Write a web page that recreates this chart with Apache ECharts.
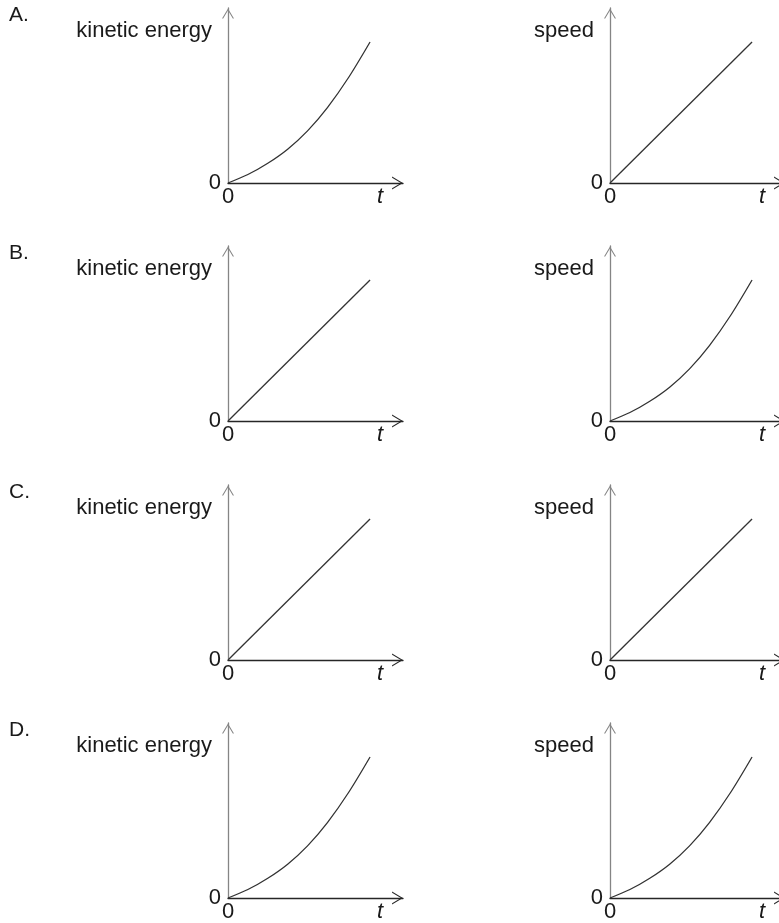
<!DOCTYPE html>
<html>
<head>
<meta charset="utf-8">
<script src="https://cdn.jsdelivr.net/npm/echarts@6/dist/echarts.min.js"></script>
<style>
html, body { margin: 0; padding: 0; background: #fff; }
#main { width: 779px; height: 923px; }
</style>
</head>
<body>
<div id="main"></div>
<script>
// values (t and the plotted quantity, same units in every panel)
var curveT = [0, 1.4, 2.8, 4.2, 5.6, 7.0, 8.5, 10];
var curveValues = [0, 0.6, 1.4, 2.4, 3.7, 5.35, 7.5, 10];
var lineT = [0, 10];
var lineValues = [0, 10];

var rowLabels = ['A.', 'B.', 'C.', 'D.'];
var yNames = ['kinetic energy', 'speed'];
// shape of the graph in each panel: [kinetic energy, speed]
var panelShapes = [
    ['curve', 'line'],
    ['line', 'curve'],
    ['line', 'line'],
    ['curve', 'curve']
];

var originY = [183, 421, 660, 898];
var originX = [228, 610];
var size = 175;
var xMax = 12.32, yMax = 12.41;
var font = 'Liberation Sans, Arial, sans-serif';
var fs = 22;
var arrow = 'path://M0,10 L6,0 L12,10 L10.8,10 L6,1.9 L1.2,10 Z';

function pairs(xs, ys) {
    var out = [];
    for (var i = 0; i < xs.length; i++) out.push([xs[i], ys[i]]);
    return out;
}

var grids = [], xAxes = [], yAxes = [], series = [], titles = [];
for (var r = 0; r < 4; r++) {
    titles.push({
        text: rowLabels[r],
        left: 9,
        top: originY[r] - 178,
        padding: 0,
        textStyle: { fontFamily: font, fontSize: 21, fontWeight: 'normal', color: '#1a1a1a' }
    });
    for (var c = 0; c < 2; c++) {
        var idx = grids.length;
        grids.push({
            left: originX[c],
            top: originY[r] - size,
            width: size,
            height: size,
            outerBoundsMode: 'none'
        });
        xAxes.push({
            gridIndex: idx,
            type: 'value',
            min: 0,
            max: xMax,
            name: 't',
            nameLocation: 'end',
            nameGap: -23,
            nameMoveOverlap: false,
            nameTextStyle: {
                fontFamily: font, fontSize: fs, fontStyle: 'italic', color: '#1a1a1a',
                align: 'center', verticalAlign: 'top', padding: [3, 0, 0, 0]
            },
            axisLine: {
                lineStyle: { color: '#262626', width: 1.3 },
                symbol: ['none', arrow],
                symbolSize: [13, 11],
                symbolOffset: [0, -5.5]
            },
            axisTick: { show: false },
            splitLine: { show: false },
            axisLabel: {
                margin: 3,
                fontFamily: font, fontSize: fs, color: '#1a1a1a',
                formatter: function (v) { return v === 0 ? '0' : ''; }
            }
        });
        yAxes.push({
            gridIndex: idx,
            type: 'value',
            min: 0,
            max: yMax,
            name: yNames[c],
            nameLocation: 'end',
            nameGap: -23,
            nameMoveOverlap: false,
            nameTextStyle: {
                fontFamily: font, fontSize: fs, color: '#1a1a1a',
                align: 'right', verticalAlign: 'middle', padding: [0, 16, 0, 0]
            },
            axisLine: {
                lineStyle: { color: '#858585', width: 1.3 },
                symbol: ['none', arrow],
                symbolSize: [12, 11],
                symbolOffset: [0, -5.5]
            },
            axisTick: { show: false },
            splitLine: { show: false },
            axisLabel: {
                margin: 7,
                fontFamily: font, fontSize: fs, color: '#1a1a1a',
                formatter: function (v) { return v === 0 ? '0' : ''; }
            }
        });
        var isCurve = panelShapes[r][c] === 'curve';
        series.push({
            type: 'line',
            xAxisIndex: idx,
            yAxisIndex: idx,
            data: isCurve ? pairs(curveT, curveValues) : pairs(lineT, lineValues),
            smooth: isCurve ? 0.3 : false,
            showSymbol: false,
            silent: true,
            lineStyle: { color: '#333333', width: 1.3 }
        });
    }
}

var chart = echarts.init(document.getElementById('main'));
chart.setOption({
    animation: false,
    backgroundColor: '#fff',
    title: titles,
    grid: grids,
    xAxis: xAxes,
    yAxis: yAxes,
    series: series
});
</script>
</body>
</html>
